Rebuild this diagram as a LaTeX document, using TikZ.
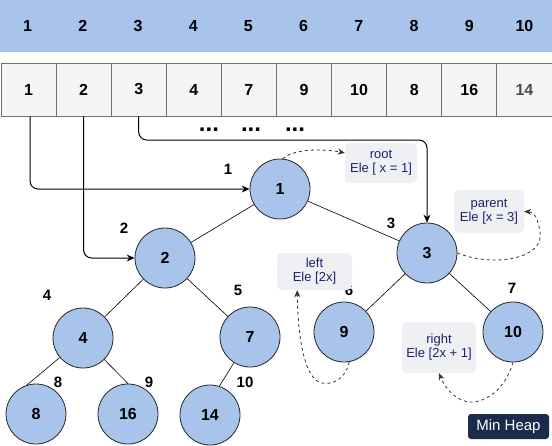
\documentclass[tikz,border=0pt]{standalone}
\usepackage{fontspec}
\setmainfont{Liberation Sans}
\usetikzlibrary{arrows.meta,calc}
\definecolor{heapblue}{HTML}{A9C4EB}
\definecolor{cellgray}{HTML}{F5F5F5}
\definecolor{cellline}{HTML}{707070}
\definecolor{notefill}{HTML}{EFF0F3}
\definecolor{notetext}{HTML}{20206E}
\definecolor{tagfill}{HTML}{1B2B4B}
\tikzset{
  bandcell/.style={rectangle, fill=heapblue, minimum width=55.2pt, minimum height=52pt, inner sep=0pt, font=\fontsize{16}{18}\selectfont\bfseries},
  arrcell/.style={rectangle, draw=cellline, fill=cellgray, line width=0.8pt, minimum width=55.1pt, minimum height=53pt, inner sep=0pt, font=\fontsize{16}{18}\selectfont\bfseries},
  heapnode/.style={circle, draw=black!85, fill=heapblue, line width=0.8pt, minimum size=60pt, inner sep=0pt, font=\fontsize{16}{18}\selectfont\bfseries},
  idx/.style={font=\fontsize{15}{17}\selectfont\bfseries, inner sep=0pt},
  note/.style={rectangle, rounded corners=5pt, fill=notefill, inner sep=0pt, text=notetext, align=center, font=\fontsize{13}{14}\selectfont},
  tag/.style={rectangle, rounded corners=3pt, fill=tagfill, text=white, minimum width=81pt, minimum height=25pt, inner sep=0pt, font=\fontsize{15}{17}\selectfont},
  treeedge/.style={draw=black, line width=0.6pt},
  link/.style={draw=black, line width=1pt, rounded corners=8pt, -{Stealth[length=8pt,width=7pt]}},
  hint/.style={draw=black!80, line width=0.8pt, dash pattern=on 3pt off 3pt, -{Stealth[length=7pt,width=6pt]}},
  dots/.style={font=\fontsize{24}{24}\selectfont\bfseries, inner sep=0pt}
}
\begin{document}
\begin{tikzpicture}[x=1pt,y=-1pt]
\useasboundingbox (0,0) rectangle (552,445);
% top band (positions)
\foreach \i in {1,...,10}{
  \node[bandcell] (b\i) at ({27.6+55.2*(\i-1)},26) {\i};
}
% array cells
\node[arrcell] (c1) at (28.5,89.5) {1};
\node[arrcell] (c2) at (83.6,89.5) {2};
\node[arrcell] (c3) at (138.7,89.5) {3};
\node[arrcell] (c4) at (193.8,89.5) {4};
\node[arrcell] (c5) at (248.9,89.5) {7};
\node[arrcell] (c6) at (304.0,89.5) {9};
\node[arrcell] (c7) at (359.1,89.5) {10};
\node[arrcell] (c8) at (414.2,89.5) {8};
\node[arrcell] (c9) at (469.3,89.5) {16};
\node[arrcell, text=black!70] (c10) at (524.4,89.5) {14};
% dots
\node[dots] (d1) at (209,130) {...};
\node[dots] (d2) at (251,130) {...};
\node[dots] (d3) at (295,130) {...};
% heap nodes
\node[heapnode] (n1) at (280,189) {1};
\node[heapnode] (n2) at (165,258) {2};
\node[heapnode] (n3) at (427,253) {3};
\node[heapnode] (n4) at (83,338) {4};
\node[heapnode] (n7) at (250,337) {7};
\node[heapnode] (n9) at (344,332) {9};
\node[heapnode] (n10) at (513,332) {10};
\node[heapnode] (n8) at (36,414) {8};
\node[heapnode] (n16) at (128,414) {16};
\node[heapnode] (n14) at (210,415) {14};
% tree edges
\draw[treeedge] (n1) -- (n2);
\draw[treeedge] (n1) -- (n3);
\draw[treeedge] (n2) -- (n4);
\draw[treeedge] (n2) -- (n7);
\draw[treeedge] (n3) -- (n9);
\draw[treeedge] (n3) -- (n10);
\draw[treeedge] (n4) -- (n8.107);
\draw[treeedge] (n4) -- (n16.north);
\draw[treeedge] (n7) -- (n14.72);
% index labels
\node[idx] (i1) at (228,169) {1};
\node[idx] (i2) at (124,228) {2};
\node[idx] (i3) at (391,223) {3};
\node[idx] (i4) at (47,295) {4};
\node[idx] (i5) at (238,290) {5};
\node[idx] (i6) at (349,290) {6};
\node[idx] (i7) at (512,288) {7};
\node[idx] (i8) at (58,382) {8};
\node[idx] (i9) at (149,382) {9};
\node[idx] (i10) at (245,382) {10};
% notes
\node[note, minimum width=72pt, minimum height=40pt] (root) at (381,163) {root\\Ele [ x = 1]};
\node[note, minimum width=70pt, minimum height=43pt] (parent) at (489,211.5) {parent\\Ele [x = 3]};
\node[note, minimum width=75pt, minimum height=37pt] (left) at (314.5,271.5) {left\\Ele [2x]};
\node[note, minimum width=74pt, minimum height=51pt] (right) at (439,347.5) {right\\Ele [2x + 1]};
\node[tag] (mh) at (508.5,426.5) {Min Heap};
% links from array to tree
\coordinate (k3) at (0,140);
\draw[link] ([xshift=1.5pt]c1.south) |- (n1.west);
\draw[link] (c2.south) |- (n2.west);
\draw[link] (c3.south) |- (n3.north |- k3) -- (n3.north);
% dashed hints
\draw[hint] (n1.85) .. controls (295,148) and (325,149) .. ($(root.north west)!0.25!(root.south west)$);
\draw[hint] (n3.east) .. controls (495,268) and (545,258) .. (540,232) .. controls (538,218) and (534,212) .. (parent.east);
\draw[hint] (n9.-80) .. controls (345,380) and (332,385) .. (322,383) .. controls (305,380) and (298,340) .. ($(left.south west)!0.27!(left.south east)$);
\draw[hint] (n10.south) .. controls (505,390) and (485,403) .. (469,402) .. controls (455,400) and (445,388) .. (right.south);
\end{tikzpicture}
\end{document}
